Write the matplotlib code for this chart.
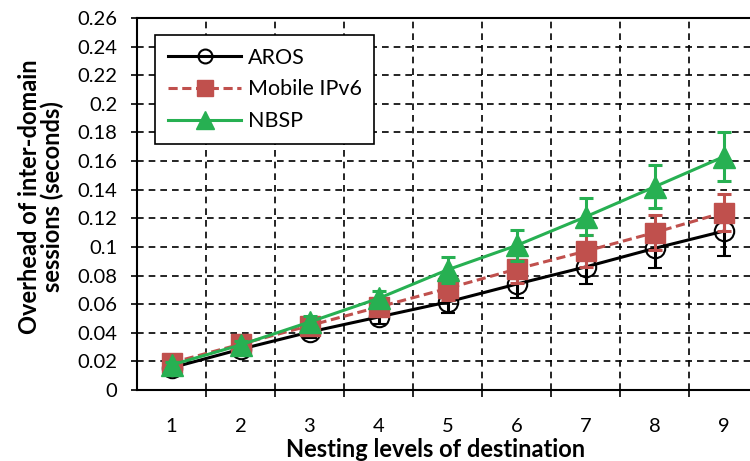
import matplotlib
matplotlib.use("Agg")
import matplotlib.pyplot as plt
from matplotlib.lines import Line2D
from matplotlib.ticker import FixedLocator, FuncFormatter

plt.rcParams['font.family'] = ['Lato', 'DejaVu Sans']

levels = [1, 2, 3, 4, 5, 6, 7, 8, 9]
aros = [0.0155, 0.0285, 0.0405, 0.051, 0.0615, 0.074, 0.086, 0.099, 0.111]
aros_err = [0.002, 0.003, 0.004, 0.005, 0.008, 0.010, 0.012, 0.014, 0.017]
mipv6 = [0.019, 0.032, 0.045, 0.058, 0.071, 0.0845, 0.097, 0.110, 0.124]
mipv6_err = [0.002, 0.003, 0.004, 0.005, 0.008, 0.010, 0.011, 0.012, 0.013]
nbsp = [0.0175, 0.0315, 0.0475, 0.064, 0.084, 0.101, 0.121, 0.142, 0.163]
nbsp_err = [0.002, 0.003, 0.004, 0.005, 0.009, 0.011, 0.013, 0.015, 0.017]
yticks = [0, 0.02, 0.04, 0.06, 0.08, 0.1, 0.12, 0.14, 0.16, 0.18, 0.2, 0.22, 0.24, 0.26]

red = '#C0504D'
green = '#27B052'
dash = (0, (3, 1.5))

fig = plt.figure(figsize=(7.5, 4.61), dpi=100)
ax = fig.add_axes([137/750, 1-390/461, 621/750, 372/461])

ax.errorbar(levels, aros, yerr=aros_err, color='black', lw=2.2, marker='o',
            ms=14, mfc='none', mec='black', mew=1.5, ecolor='black',
            elinewidth=2.2, capsize=5, capthick=2.2, zorder=3)
ax.errorbar(levels, mipv6, yerr=mipv6_err, color=red, lw=2.2, ls=dash,
            marker='s', ms=15, mfc=red, mec=red, ecolor=red,
            elinewidth=2.2, capsize=5, capthick=2.2, zorder=4)
ax.errorbar(levels, nbsp, yerr=nbsp_err, color=green, lw=2.2, marker='^',
            ms=16, mfc=green, mec=green, ecolor=green,
            elinewidth=2.2, capsize=5, capthick=2.2, zorder=5)

ax.set_xlim(0.5, 9.5)
ax.set_ylim(0, 0.26)
ax.set_yticks(yticks)
ax.yaxis.set_major_formatter(FuncFormatter(lambda v, p: f"{round(v, 2):g}"))
ax.set_xticks(levels)
ax.xaxis.set_minor_locator(FixedLocator([i + 0.5 for i in range(1, 9)]))
ax.tick_params(axis='x', which='major', length=0, pad=20, labelsize=14.5)
ax.tick_params(axis='x', which='minor', length=5, width=1.2, direction='out')
ax.tick_params(axis='y', which='major', length=4, width=1.2, direction='out',
               pad=10, labelsize=14.5)

ax.grid(True, axis='y', which='major', color='black', ls=(0, (4, 3)), lw=1.2)
ax.grid(True, axis='x', which='minor', color='black', ls=(0, (4, 3)), lw=1.2)
ax.set_axisbelow(True)
for s in ax.spines.values():
    s.set_linewidth(1.5)

ax.set_xlabel('Nesting levels of destination', fontsize=17, fontweight='bold')
ax.xaxis.set_label_coords(0.481, -0.13)
ax.set_ylabel('Overhead of inter-domain\nsessions (seconds)', fontsize=17,
              fontweight='bold', linespacing=1.0)
ax.yaxis.set_label_coords(-0.117, 0.52)

handles = [
    Line2D([], [], color='black', lw=2.2, marker='o', ms=10, mfc='none', mew=1.5),
    Line2D([], [], color=red, lw=2.2, ls=dash, marker='s', ms=12, mfc=red, mec=red),
    Line2D([], [], color=green, lw=2.2, marker='^', ms=13, mfc=green, mec=green),
]
names = ['AROS', 'Mobile IPv6', 'NBSP']
leg = ax.legend(handles, names, loc='upper left', bbox_to_anchor=(0.029, 0.955),
                fontsize=15.5, frameon=True, fancybox=False, edgecolor='black',
                framealpha=1, handlelength=3.4, handletextpad=0.3,
                borderpad=0.6, labelspacing=0.55, borderaxespad=0)
leg.get_frame().set_linewidth(1.2)

fig.savefig('out.png', dpi=100)
